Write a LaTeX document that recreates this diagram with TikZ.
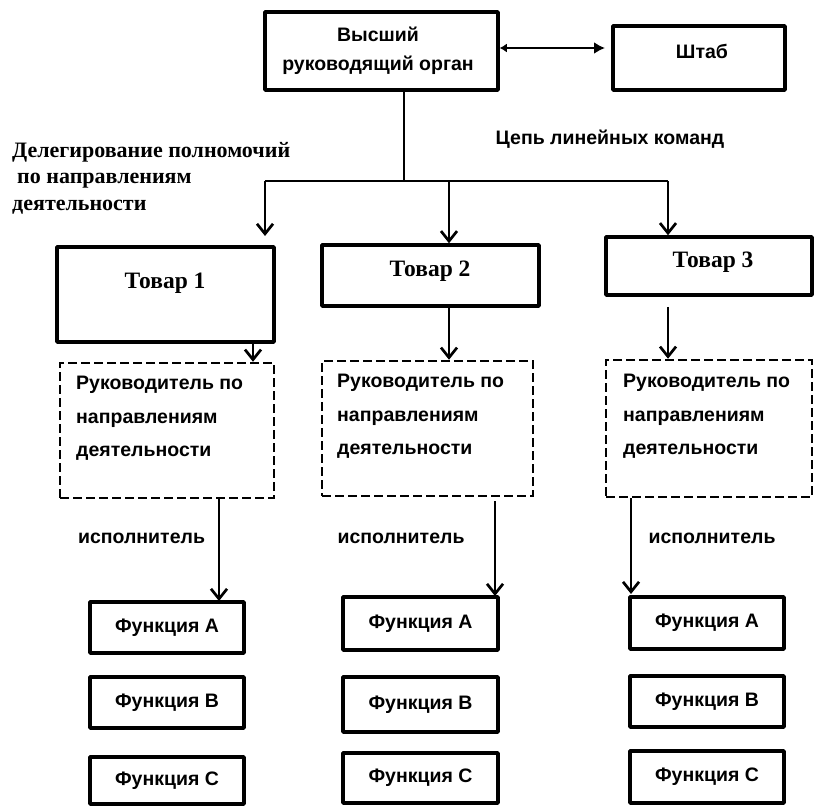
\documentclass[tikz,border=0pt]{standalone}
\usepackage{fontspec}
\setmainfont{Liberation Serif}
\setsansfont{Liberation Sans}
\usetikzlibrary{arrows.meta}

\tikzset{
  box/.style={draw, line width=3.5pt, line join=round, inner sep=0pt},
  dbox/.style={draw, line width=2.5pt, dash pattern=on 9pt off 4pt, inner sep=0pt},
  sans/.style={inner sep=0pt, font=\sffamily\bfseries\fontsize{19.5}{29}\selectfont},
  dtext/.style={inner sep=0pt, align=left, anchor=north west,
    font=\sffamily\bfseries\fontsize{19.5}{33.5}\selectfont},
  serif/.style={inner sep=0pt, font=\rmfamily\bfseries\fontsize{22}{26.5}\selectfont},
  prodtext/.style={inner sep=0pt, font=\rmfamily\bfseries\fontsize{23.5}{28}\selectfont},
  arr/.style={line width=2.7pt, -{Straight Barb[length=10pt,width=16pt,line width=2.7pt]}},
  trunk/.style={line width=1.6pt},
  dbl/.style={line width=2.8pt, {Latex[length=7pt,width=9pt]}-{Latex[length=11pt,width=12pt]}},
}

\begin{document}
\begin{tikzpicture}[x=1pt, y=-1pt]
\useasboundingbox (0,0) rectangle (814,806);

% top level
\node[box, minimum width=233pt, minimum height=78pt] (top) at (381.5,51) {};
\node[sans, align=center] (toptext) at (378,50.5) {Высший\\руководящий орган};
\node[box, minimum width=172pt, minimum height=64pt] (staff) at (699,58) {};
\node[sans] (stafftext) at (702,51) {Штаб};
\coordinate (staffin) at (605,48);
\draw[dbl] ([yshift=3pt]top.east) -- (staffin);

% labels
\node[serif, align=left, anchor=north west] (deleg) at (12,142)
  {Делегирование полномочий\\\hspace*{5pt}по направлениям\\деятельности};
\node[sans] (chain) at (610,139) {Цепь линейных команд};

% products
\node[box, minimum width=217pt, minimum height=95pt] (p1) at (165.5,294.5) {};
\node[prodtext] (p1t) at (165,283) {Товар 1};
\node[box, minimum width=217pt, minimum height=61pt] (p2) at (430.5,275.5) {};
\node[prodtext] (p2t) at (430,271) {Товар 2};
\node[box, minimum width=206pt, minimum height=58pt] (p3) at (709,266) {};
\node[prodtext] (p3t) at (713,262) {Товар 3};

% line chain
\coordinate (hub) at (404,181);
\coordinate (j1) at (265,181);
\coordinate (j2) at (449,181);
\coordinate (j3) at (668,181);
\coordinate (e1) at (265,236);
\draw[trunk] (top.south -| hub) -- (hub);
\draw[trunk] (j1) -- (j3);
\draw[arr] (j1) -- (e1);
\draw[arr] (j2) -- (p2.north -| j2);
\draw[arr] (j3) -- (p3.north -| j3);

% managers
\node[dbox, minimum width=214pt, minimum height=135pt] (d1) at (167,430.5) {};
\node[dbox, minimum width=211pt, minimum height=135pt] (d2) at (427.5,428.5) {};
\node[dbox, minimum width=206pt, minimum height=137pt] (d3) at (709,428.5) {};
\node[dtext] (d1t) at (76,376) {Руководитель по\\направлениям\\деятельности};
\node[dtext] (d2t) at (337,374) {Руководитель по\\направлениям\\деятельности};
\node[dtext] (d3t) at (623,374) {Руководитель по\\направлениям\\деятельности};

\coordinate (a1) at (253,0);
\coordinate (a2) at (449,0);
\coordinate (a3) at (668,0);
\draw[arr] (p1.south -| a1) -- (d1.north -| a1);
\draw[arr] (p2.south -| a2) -- (d2.north -| a2);
\draw[arr] ([yshift=-10pt]p3.south -| a3) -- (d3.north -| a3);

% executors
\node[sans] (ex1) at (141.5,538) {исполнитель};
\node[sans] (ex2) at (401,538) {исполнитель};
\node[sans] (ex3) at (712,538) {исполнитель};

% functions
\node[box, minimum width=154pt, minimum height=51pt, sans] (f1a) at (167,627.5) {Функция А};
\node[box, minimum width=154pt, minimum height=51pt, sans] (f1b) at (167,702.5) {Функция В};
\node[box, minimum width=154pt, minimum height=47pt, sans] (f1c) at (167,780.5) {Функция С};
\node[box, minimum width=155pt, minimum height=53pt, sans] (f2a) at (420.5,623.5) {Функция А};
\node[box, minimum width=155pt, minimum height=55pt, sans] (f2b) at (420.5,704.5) {Функция В};
\node[box, minimum width=155pt, minimum height=50pt, sans] (f2c) at (420.5,778) {Функция С};
\node[box, minimum width=154pt, minimum height=52pt, sans] (f3a) at (707,623) {Функция А};
\node[box, minimum width=154pt, minimum height=51pt, sans] (f3b) at (707,701.5) {Функция В};
\node[box, minimum width=154pt, minimum height=52pt, sans] (f3c) at (707,777) {Функция С};

\coordinate (b1) at (219,0);
\coordinate (b2) at (495,0);
\coordinate (b3) at (631,0);
\coordinate (t1) at (219,601);
\coordinate (t2) at (495,596);
\coordinate (t3) at (631,594);
\draw[arr] (d1.south -| b1) -- (t1);
\draw[arr] ([yshift=-4pt]d2.south -| b2) -- (t2);
\draw[arr] (d3.south -| b3) -- (t3);
\end{tikzpicture}
\end{document}
